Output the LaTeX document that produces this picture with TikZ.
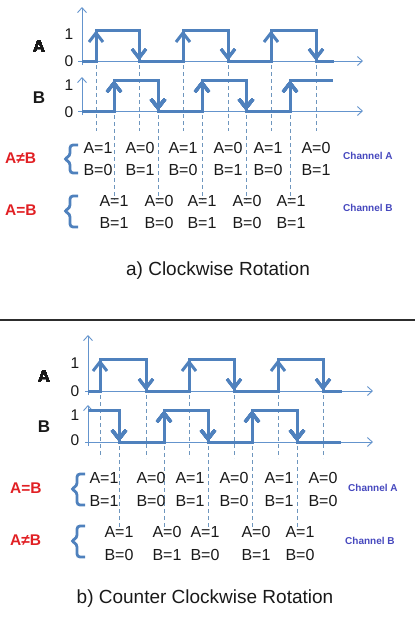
\documentclass[tikz,border=0pt]{standalone}
\usepackage{fontspec}
\setmainfont{Liberation Sans}
\usetikzlibrary{arrows.meta}
\definecolor{sig}{RGB}{79,129,189}
\definecolor{axc}{RGB}{100,148,205}
\definecolor{dashc}{RGB}{110,150,190}
\definecolor{redc}{RGB}{225,32,36}
\definecolor{chan}{RGB}{70,72,190}
\definecolor{txt}{RGB}{25,25,25}
\definecolor{sepc}{RGB}{45,45,45}
\newcommand\myup[2]{\draw[sigline] (#1-7,#2+12) -- (#1,#2+3) -- (#1+7,#2+12);}
\newcommand\mydown[2]{\draw[sigline] (#1-7,#2-12) -- (#1,#2-3) -- (#1+7,#2-12);}
\newcommand\mybrace[4]{\draw[bracel] (#1+8,#2) -- (#1,#2) -- (#1,#4-3) -- (#1-6,#4) -- (#1,#4+3) -- (#1,#3) -- (#1+8,#3);}
\begin{document}
\begin{tikzpicture}[x=1pt,y=-1pt,
  sigline/.style={sig,line width=3pt,line join=miter},
  axisline/.style={axc,line width=0.9pt,-{Straight Barb[length=5pt,width=9pt]}},
  guide/.style={dashc,line width=0.8pt,dash pattern=on 4pt off 3pt},
  bracel/.style={sig,line width=2.8pt,rounded corners=3pt},
  val/.style={font=\fontsize{16}{18}\selectfont,anchor=base,inner sep=0pt,text=txt},
  lvl/.style={font=\fontsize{15.5}{18}\selectfont,anchor=base,inner sep=0pt,text=txt},
  signame/.style={font=\fontsize{17}{19}\selectfont\bfseries,anchor=base,inner sep=0pt,text=txt},
  rel/.style={font=\fontsize{15.5}{18}\selectfont\bfseries,anchor=base west,inner sep=0pt,text=redc},
  chn/.style={font=\fontsize{10}{12}\selectfont\bfseries,anchor=base west,inner sep=0pt,text=chan},
  captext/.style={font=\fontsize{19}{22}\selectfont,anchor=base,inner sep=0pt,text=txt}]
\useasboundingbox (0,0) rectangle (415,635);

% ================= top panel =================
% guides
\foreach \x in {96,139,183,228,271,316} \draw[guide] (\x,65) -- (\x,131);
\foreach \x in {114,158,202,246,290} \draw[guide] (\x,115) -- (\x,200);
% axes
\draw[axisline] (82,65) -- (82,7);
\draw[axisline] (78,61) -- (363,61);
\draw[axisline] (82,115) -- (82,77);
\draw[axisline] (78,111) -- (363,111);
% signals
\draw[sigline] (82,61) -- (96,61) -- (96,30) -- (139,30) -- (139,61) -- (183,61) -- (183,30) -- (228,30) -- (228,61) -- (271,61) -- (271,30) -- (316,30) -- (316,61) -- (334,61);
\draw[sigline] (82,111) -- (114,111) -- (114,80) -- (158,80) -- (158,111) -- (202,111) -- (202,80) -- (246,80) -- (246,111) -- (290,111) -- (290,80) -- (333,80);
\foreach \x in {96,183,271} \myup{\x}{30}
\foreach \x in {139,228,316} \mydown{\x}{61}
\foreach \x in {114,202,290} \myup{\x}{80}
\foreach \x in {158,246} \mydown{\x}{111}
% labels
\node[signame] (tA) at (39,52) {A};
\node[signame] (tB) at (39,103) {B};
\node[lvl] (tA1) at (69,39) {1};
\node[lvl] (tA0) at (69,66) {0};
\node[lvl] (tB1) at (69,90) {1};
\node[lvl] (tB0) at (69,117) {0};
% relations
\node[rel] (tne) at (5,163) {A≠B};
\node[rel] (teq) at (5,215) {A=B};
\mybrace{70}{145}{173}{159}
\mybrace{70}{196}{227}{211}
\foreach \x/\a/\b [count=\i] in {98/1/0,140/0/1,183/1/0,228/0/1,268/1/0,316/0/1}{
  \node[val] (ta\i) at (\x,153) {A=\a};
  \node[val] (tb\i) at (\x,175) {B=\b};}
\foreach \x/\a/\b [count=\i] in {114/1/1,159/0/0,202/1/1,247/0/0,291/1/1}{
  \node[val] (tc\i) at (\x,206) {A=\a};
  \node[val] (td\i) at (\x,228) {B=\b};}
\node[chn] (tchA) at (343,159) {Channel A};
\node[chn] (tchB) at (343,211) {Channel B};
\node[captext] (tcap) at (218,275) {a) Clockwise Rotation};

% separator
\draw[sepc,line width=1.3pt] (0,320) -- (415,320);

% ================= bottom panel =================
\foreach \x in {100,146,189,234,278,323} \draw[guide] (\x,395) -- (\x,458);
\foreach \x in {119,164,208,252,297} \draw[guide] (\x,446) -- (\x,530);
\draw[axisline] (88,395) -- (88,335);
\draw[axisline] (85,391) -- (373,391);
\draw[axisline] (88,446) -- (88,405);
\draw[axisline] (85,442) -- (373,442);
\draw[sigline] (88,391) -- (100,391) -- (100,359) -- (146,359) -- (146,391) -- (189,391) -- (189,359) -- (234,359) -- (234,391) -- (278,391) -- (278,359) -- (323,359) -- (323,391) -- (342,391);
\draw[sigline] (88,410) -- (119,410) -- (119,442) -- (164,442) -- (164,410) -- (208,410) -- (208,442) -- (252,442) -- (252,410) -- (297,410) -- (297,442) -- (341,442);
\foreach \x in {100,189,278} \myup{\x}{359}
\foreach \x in {146,234,323} \mydown{\x}{391}
\foreach \x in {164,252} \myup{\x}{410}
\foreach \x in {119,208,297} \mydown{\x}{442}
\node[signame] (bA) at (44,382) {A};
\node[signame] (bB) at (44,432) {B};
\node[lvl] (bA1) at (75,368) {1};
\node[lvl] (bA0) at (75,396) {0};
\node[lvl] (bB1) at (75,420) {1};
\node[lvl] (bB0) at (75,445) {0};
\node[rel] (beq) at (10,493) {A=B};
\node[rel] (bne) at (10,545) {A≠B};
\mybrace{77}{474}{505}{489}
\mybrace{77}{526}{557}{541}
\foreach \x/\a/\b [count=\i] in {104/1/1,151/0/0,190/1/1,234/0/0,279/1/1,323/0/0}{
  \node[val] (ba\i) at (\x,483) {A=\a};
  \node[val] (bb\i) at (\x,506) {B=\b};}
\foreach \x/\a/\b [count=\i] in {119/1/0,167/0/1,205/1/0,256/0/1,300/1/0}{
  \node[val] (bc\i) at (\x,537) {A=\a};
  \node[val] (bd\i) at (\x,560) {B=\b};}
\node[chn] (bchA) at (348,491) {Channel A};
\node[chn] (bchB) at (345,544) {Channel B};
\node[captext] (bcap) at (205,603) {b) Counter Clockwise Rotation};
\end{tikzpicture}
\end{document}
